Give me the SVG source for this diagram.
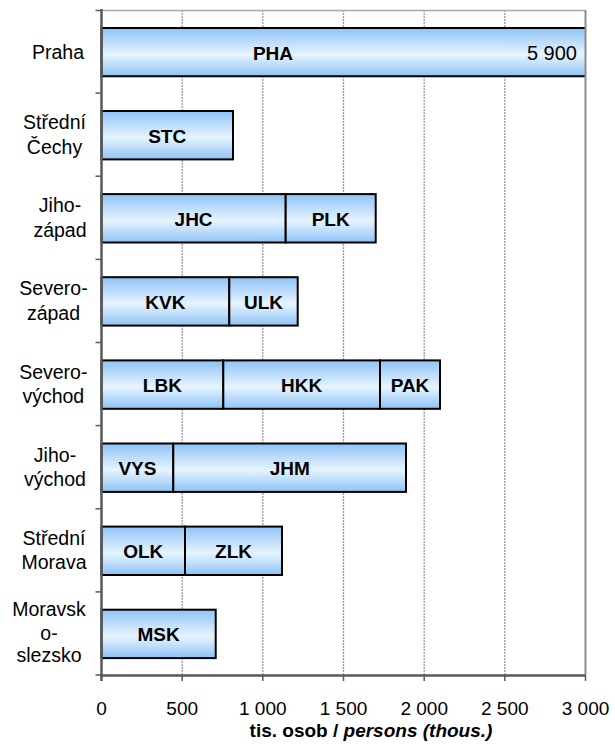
<svg xmlns="http://www.w3.org/2000/svg" width="615" height="744" viewBox="0 0 615 744">
<defs>
<linearGradient id="bg" x1="0" y1="0" x2="0" y2="1">
<stop offset="0" stop-color="#8ec3f6"/>
<stop offset="0.55" stop-color="#e6f4fe"/>
<stop offset="1" stop-color="#8ec3f6"/>
</linearGradient>
</defs>
<style>
.seg{fill:url(#bg);stroke:#000;stroke-width:2}
.grid{stroke:#9a9a9a;stroke-width:1.3;stroke-dasharray:2 1;fill:none}
.bl{font-family:"Liberation Sans",Arial,sans-serif;font-weight:bold;font-size:19px;text-anchor:middle;fill:#000}
.cat{font-family:"Liberation Sans",Arial,sans-serif;font-size:19.5px;text-anchor:middle;fill:#000}
.tick{font-family:"Liberation Sans",Arial,sans-serif;font-size:19px;text-anchor:middle;fill:#000}
.ax{stroke:#595959;stroke-width:2.5;fill:none}
</style>
<rect width="615" height="744" fill="#fff"/>
<g id="grid">
<line class="grid" x1="182.2" y1="10" x2="182.2" y2="675"/>
<line class="grid" x1="262.8" y1="10" x2="262.8" y2="675"/>
<line class="grid" x1="343.5" y1="10" x2="343.5" y2="675"/>
<line class="grid" x1="424.2" y1="10" x2="424.2" y2="675"/>
<line class="grid" x1="504.8" y1="10" x2="504.8" y2="675"/>
<line x1="101.5" y1="10.5" x2="585.5" y2="10.5" stroke="#a8a8a8" stroke-width="1.5"/>
</g>
<g id="row-praha">
<rect x="101.5" y="27.9" width="484" height="48.4" fill="url(#bg)"/>
<path d="M585.5 27.9H101.5V76.3H585.5" fill="none" stroke="#000" stroke-width="2"/>
<text class="bl" x="273" y="59.5">PHA</text>
<text class="tick" x="577" y="59.5" style="text-anchor:end;font-size:20px">5 900</text>
<text class="cat" x="58" y="58.6">Praha</text>
</g>
<g id="row-stredni-cechy">
<rect class="seg" x="101.5" y="111" width="131.5" height="48.4"/>
<text class="bl" x="167.2" y="142.5">STC</text>
<text class="cat" x="54.5" y="129.2">Střední</text>
<text class="cat" x="54.5" y="153.7">Čechy</text>
</g>
<g id="row-jihozapad">
<rect class="seg" x="101.5" y="194.1" width="184.2" height="48.4"/>
<rect class="seg" x="285.7" y="194.1" width="90" height="48.4"/>
<text class="bl" x="193.6" y="225.5">JHC</text>
<text class="bl" x="330.7" y="225.5">PLK</text>
<text class="cat" x="60" y="212.3">Jiho-</text>
<text class="cat" x="60" y="236.8">západ</text>
</g>
<g id="row-severozapad">
<rect class="seg" x="101.5" y="277.2" width="127.8" height="48.4"/>
<rect class="seg" x="229.3" y="277.2" width="68.4" height="48.4"/>
<text class="bl" x="165.4" y="308.6">KVK</text>
<text class="bl" x="263.5" y="308.6">ULK</text>
<text class="cat" x="53.5" y="295.4">Severo-</text>
<text class="cat" x="53.5" y="319.9">západ</text>
</g>
<g id="row-severovychod">
<rect class="seg" x="101.5" y="360.4" width="121.8" height="48.4"/>
<rect class="seg" x="223.3" y="360.4" width="156.7" height="48.4"/>
<rect class="seg" x="380" y="360.4" width="60" height="48.4"/>
<text class="bl" x="162.4" y="391.8">LBK</text>
<text class="bl" x="301.7" y="391.8">HKK</text>
<text class="bl" x="410" y="391.8">PAK</text>
<text class="cat" x="53.3" y="378.6">Severo-</text>
<text class="cat" x="53.3" y="403.1">východ</text>
</g>
<g id="row-jihovychod">
<rect class="seg" x="101.5" y="443.5" width="71.8" height="48.4"/>
<rect class="seg" x="173.3" y="443.5" width="232.7" height="48.4"/>
<text class="bl" x="137.4" y="474.9">VYS</text>
<text class="bl" x="289.7" y="474.9">JHM</text>
<text class="cat" x="55" y="461.7">Jiho-</text>
<text class="cat" x="55" y="486.2">východ</text>
</g>
<g id="row-stredni-morava">
<rect class="seg" x="101.5" y="526.6" width="83.5" height="48.4"/>
<rect class="seg" x="185" y="526.6" width="97" height="48.4"/>
<text class="bl" x="143.3" y="558">OLK</text>
<text class="bl" x="233.5" y="558">ZLK</text>
<text class="cat" x="54" y="544.8">Střední</text>
<text class="cat" x="54" y="569.3">Morava</text>
</g>
<g id="row-moravskoslezsko">
<rect class="seg" x="101.5" y="609.7" width="114.2" height="48.4"/>
<text class="bl" x="158.6" y="641.1">MSK</text>
<text class="cat" x="49" y="616.4">Moravsk</text>
<text class="cat" x="49" y="639.9">o-</text>
<text class="cat" x="49" y="662.4">slezsko</text>
</g>
<g id="axes">
<line x1="585.5" y1="10" x2="585.5" y2="675" stroke="#8c8c8c" stroke-width="2"/>
<line class="ax" x1="101.5" y1="9" x2="101.5" y2="681"/>
<line class="ax" x1="100" y1="675.5" x2="585.5" y2="675.5"/>
<g stroke="#595959" stroke-width="1.5">
<line x1="95.5" y1="10.5" x2="101.5" y2="10.5"/>
<line x1="95.5" y1="93.1" x2="101.5" y2="93.1"/>
<line x1="95.5" y1="176.2" x2="101.5" y2="176.2"/>
<line x1="95.5" y1="259.4" x2="101.5" y2="259.4"/>
<line x1="95.5" y1="342.5" x2="101.5" y2="342.5"/>
<line x1="95.5" y1="425.6" x2="101.5" y2="425.6"/>
<line x1="95.5" y1="508.8" x2="101.5" y2="508.8"/>
<line x1="95.5" y1="591.9" x2="101.5" y2="591.9"/>
<line x1="95.5" y1="675" x2="101.5" y2="675"/>
<line x1="182.2" y1="675" x2="182.2" y2="681"/>
<line x1="262.8" y1="675" x2="262.8" y2="681"/>
<line x1="343.5" y1="675" x2="343.5" y2="681"/>
<line x1="424.2" y1="675" x2="424.2" y2="681"/>
<line x1="504.8" y1="675" x2="504.8" y2="681"/>
<line x1="585.5" y1="675" x2="585.5" y2="681"/>
</g>
<text class="tick" x="101.5" y="715">0</text>
<text class="tick" x="182.2" y="715">500</text>
<text class="tick" x="262.8" y="715">1 000</text>
<text class="tick" x="343.5" y="715">1 500</text>
<text class="tick" x="424.2" y="715">2 000</text>
<text class="tick" x="504.8" y="715">2 500</text>
<text class="tick" x="585.5" y="715">3 000</text>
<text class="bl" x="371" y="737">tis. osob / <tspan font-style="italic">persons (thous.)</tspan></text>
</g>
</svg>
